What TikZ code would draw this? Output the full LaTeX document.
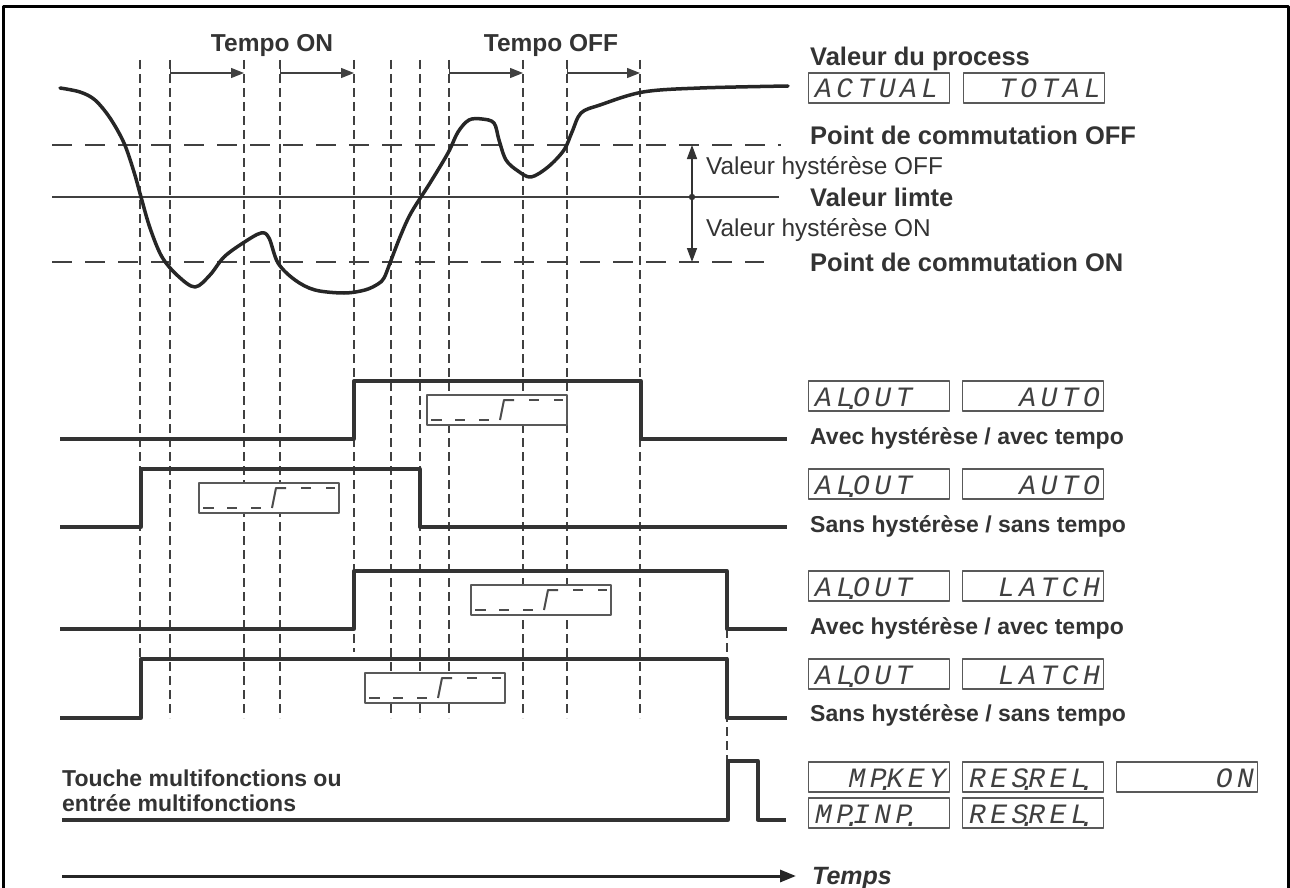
\documentclass[tikz,border=0pt]{standalone}
\usepackage{fontspec}
\setmainfont{Liberation Sans}
\newfontfamily\segfont{Liberation Mono}[FakeSlant=0.2,LetterSpace=16]
\newcommand\sd{\rlap{\kern-.33em\raisebox{-.14em}{.}}}
\usetikzlibrary{arrows.meta}

\begin{document}
\begin{tikzpicture}[x=1pt, y=-1pt, line join=round,
    lbl/.style={anchor=base west, inner sep=0pt, text=black!80,
      font=\fontsize{25.5}{30}\selectfont\bfseries},
    rowlbl/.style={lbl, font=\fontsize{23}{28}\selectfont\bfseries},
    hyst/.style={lbl, font=\fontsize{24.4}{29}\selectfont},
    seg/.style={draw=black!65, line width=1.3pt, fill=white,
      inner xsep=5pt, inner ysep=0pt, minimum height=30pt,
      text width=131pt, text height=20pt, text depth=0pt, text=black!75,
      font=\segfont\fontsize{28}{30}\selectfont},
    segl/.style={seg, align=left},
    segr/.style={seg, align=right},
    stepbox/.style={draw=black!65, line width=1.3pt, fill=white,
      minimum width=140pt, minimum height=30pt, inner sep=0pt,
      path picture={
        \draw[black!70, line width=2.6pt]
          ([shift={(4,25)}]path picture bounding box.north west)
          -- ++(11,0) ++(13,0) -- ++(10,0) ++(14,0) -- ++(10,0);
        \draw[black!70, line width=2.6pt]
          ([shift={(102,5)}]path picture bounding box.north west)
          -- ++(10,0) ++(15,0) -- ++(9,0);
        \draw[black!70, line width=2pt]
          ([shift={(73,25)}]path picture bounding box.north west)
          -- ++(4,-20) -- ++(10,0);
      }},
    vline/.style={black!75, line width=1.1pt, dash pattern=on 9pt off 5pt},
    level/.style={black!75, line width=2pt},
    signal/.style={black!80, line width=3.3pt},
    tarr/.style={black!75, line width=1.3pt,
      {Bar[width=10pt]}-{Triangle[length=13pt,width=10pt]}},
  ]
  \useasboundingbox (0,0) rectangle (1290,888);
  \draw[line width=3pt] (3,888) -- (3,7) -- (1288,7) -- (1288,888);

  % time marks
  \foreach \x in {140,170,244,280,391,420,449,523,567,640}
    \draw[vline] (\x,60) -- (\x,718);
  \draw[vline] (354,60) -- (354,652);
  \draw[vline] (727,629) -- (727,761);

  % switching levels
  \draw[level, dash pattern=on 20pt off 13pt] (52,145) -- (781,145);
  \draw[level] (52,197) -- (779,197);
  \draw[level, dash pattern=on 20pt off 13pt] (52,262) -- (764,262);

  % process value
  \draw[black!85, line width=3.5pt, line cap=round]
    plot[smooth, tension=0.55] coordinates {(60,88) (80,92) (95,100)
    (110,118) (124,143) (134,172) (141,197) (150,228) (162,257) (178,276)
    (195,287) (210,275) (224,257) (243,243) (261,233) (269,238) (278,263)
    (295,280) (315,290) (344,293) (365,290) (378,284) (384,278) (390,263)
    (400,237) (411,213) (430,183) (448,153) (458,132) (469,120) (482,119)
    (494,123) (499,140) (506,160) (518,171) (531,177) (548,167) (564,150)
    (572,132) (581,113) (600,105) (643,92) (700,88) (788,86)};

  % delays
  \node[lbl, anchor=base, font=\fontsize{24.5}{29}\selectfont\bfseries]
    (ton) at (272,52) {Tempo ON};
  \node[lbl, anchor=base, font=\fontsize{24.5}{29}\selectfont\bfseries]
    (toff) at (551,52) {Tempo OFF};
  \foreach \a/\b [count=\i] in {170/244, 280/354, 449/523, 567/640} {
    \coordinate (ta\i) at (\a,73);
    \coordinate (tb\i) at (\b,73);
    \draw[tarr] (ta\i) -- (tb\i);
  }

  % hysteresis
  \coordinate (hoff) at (692,145);
  \coordinate (hlim) at (692,197);
  \coordinate (hon) at (692,262);
  \draw[black!80, line width=1.6pt, -{Triangle[length=14pt,width=10pt]}]
    (hlim) -- (hoff);
  \draw[black!80, line width=1.6pt, -{Triangle[length=14pt,width=10pt]}]
    (hlim) -- (hon);
  \fill[black!80] (hlim) circle (3.2);

  \node[lbl] (vp) at (810,66) {Valeur du process};
  \node[segl] (act) at (879,88) {ACTUAL};
  \node[segr] (tot) at (1034,88) {TOTAL};
  \node[lbl] (poff) at (810,144) {Point de commutation OFF};
  \node[hyst] (hyoff) at (706,175) {Valeur hystérèse OFF};
  \node[lbl] (vlim) at (810,206) {Valeur limte};
  \node[hyst] (hyon) at (706,236) {Valeur hystérèse ON};
  \node[lbl] (pon) at (810,271) {Point de commutation ON};

  % relay outputs
  \draw[signal] (60,439) -- (354,439) -- (354,381) -- (641,381)
    -- (641,439) -- (787,439);
  \draw[signal] (60,527) -- (141,527) -- (141,469) -- (420,469)
    -- (420,527) -- (787,527);
  \draw[signal] (60,629) -- (354,629) -- (354,571) -- (727,571)
    -- (727,629) -- (787,629);
  \draw[signal] (60,718) -- (141,718) -- (141,659) -- (727,659)
    -- (727,718) -- (787,718);
  \draw[signal] (62,820) -- (728,820) -- (728,761) -- (758,761)
    -- (758,820) -- (786,820);

  \node[stepbox] (s1) at (497,410) {};
  \node[stepbox] (s2) at (269,498) {};
  \node[stepbox] (s3) at (541,600) {};
  \node[stepbox] (s4) at (435,688) {};

  \node[segl] (o1) at (879,396) {AL\sd OUT};
  \node[segr] (m1) at (1033,396) {AUTO};
  \node[rowlbl] (r1) at (810,444) {Avec hystérèse / avec tempo};
  \node[segl] (o2) at (879,484) {AL\sd OUT};
  \node[segr] (m2) at (1033,484) {AUTO};
  \node[rowlbl] (r2) at (810,532) {Sans hystérèse / sans tempo};
  \node[segl] (o3) at (879,586) {AL\sd OUT};
  \node[segr] (m3) at (1033,586) {LATCH};
  \node[rowlbl] (r3) at (810,634) {Avec hystérèse / avec tempo};
  \node[segl] (o4) at (879,674) {AL\sd OUT};
  \node[segr] (m4) at (1033,674) {LATCH};
  \node[rowlbl] (r4) at (810,721) {Sans hystérèse / sans tempo};

  % reset
  \node[rowlbl] (mf1) at (62,786) {Touche multifonctions ou};
  \node[rowlbl] (mf2) at (62,811) {entrée multifonctions};
  \node[segr] (k1) at (879,777) {MP\sd KEY};
  \node[segl] (k2) at (1033,777) {RES\sd REL\sd};
  \node[segr] (k3) at (1187,777) {ON};
  \node[segl] (i1) at (879,813) {MP\sd INP\sd};
  \node[segl] (i2) at (1033,813) {RES\sd REL\sd};

  % time axis
  \coordinate (t0) at (62,876);
  \coordinate (t1) at (796,876);
  \draw[black!85, line width=3pt, -{Triangle[length=16pt,width=12pt]}]
    (t0) -- (t1);
  \node[lbl, font=\fontsize{25}{30}\selectfont\bfseries\itshape]
    (tps) at (812,884) {Temps};
\end{tikzpicture}
\end{document}
